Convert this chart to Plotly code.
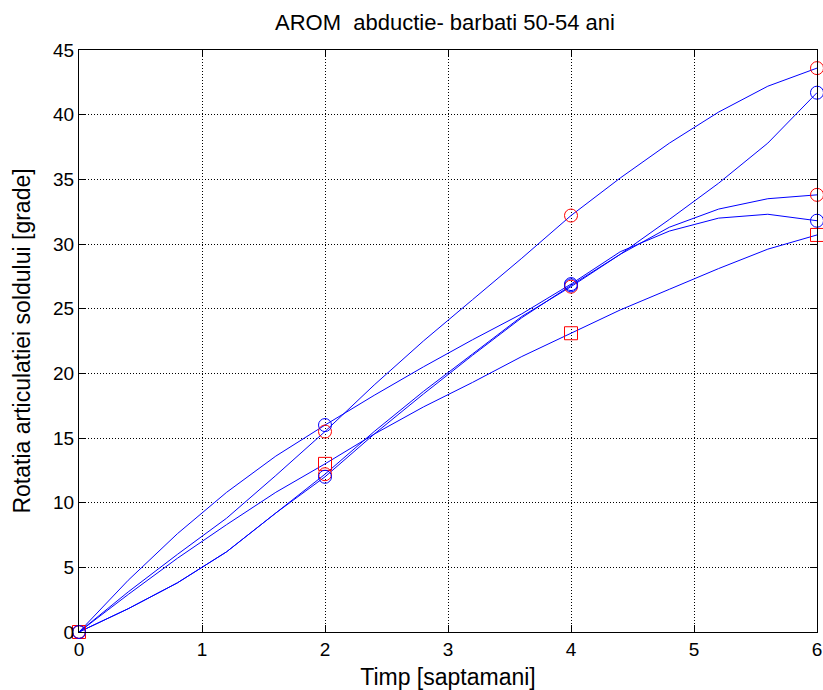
import plotly.graph_objects as go

# ---- data ----
weeks = [0, 2, 4, 6]
x_curve = [0, 0.4, 0.8, 1.2, 1.6, 2.0, 2.4, 2.8, 3.2, 3.6, 4.0, 4.4, 4.8, 5.2, 5.6, 6.0]

# curve A (red circles)
curve_a = [0, 3.1, 6.0, 8.8, 12.1, 15.5, 19.1, 22.5, 25.7, 28.9, 32.2, 35.1, 37.8, 40.2, 42.2, 43.6]
pts_a = [0, 15.5, 32.2, 43.6]
# curve B (blue circles)
curve_b = [0, 1.8, 3.8, 6.2, 9.2, 12.0, 15.3, 18.4, 21.4, 24.3, 26.8, 29.2, 31.9, 34.7, 37.8, 41.7]
pts_b = [0, 12.0, 26.8, 41.7]
# curve C (red circles)
curve_c = [0, 1.8, 3.8, 6.2, 9.2, 12.2, 15.5, 18.6, 21.5, 24.4, 26.7, 29.2, 31.3, 32.7, 33.5, 33.8]
pts_c = [0, 12.2, 26.7, 33.8]
# curve D (blue circles)
curve_d = [0, 4.0, 7.6, 10.8, 13.6, 16.0, 18.3, 20.5, 22.6, 24.6, 26.9, 29.4, 31.0, 32.0, 32.3, 31.8]
pts_d = [0, 16.0, 26.9, 31.8]
# curve E (red squares)
curve_e = [0, 2.9, 5.7, 8.3, 10.8, 13.0, 15.3, 17.4, 19.3, 21.3, 23.1, 24.9, 26.5, 28.1, 29.6, 30.7]
pts_e = [0, 13.0, 23.1, 30.7]

x_ticks = [0, 1, 2, 3, 4, 5, 6]
y_ticks = [0, 5, 10, 15, 20, 25, 30, 35, 40, 45]

title_text = "AROM\u00a0 abductie- barbati 50-54 ani"
x_title = "Timp [saptamani]"
y_title = "Rotatia articulatiei soldului [grade]"

BLUE = "rgb(0,0,255)"
RED = "rgb(255,0,0)"

fig = go.Figure()
for cy in [curve_a, curve_b, curve_c, curve_d, curve_e]:
    fig.add_trace(go.Scatter(x=x_curve, y=cy, mode="lines",
                             line=dict(color=BLUE, width=1), cliponaxis=False,
                             hoverinfo="skip"))

marker_sets = [
    (pts_a, "circle-open", RED),
    (pts_d, "circle-open", BLUE),
    (pts_e, "square-open", RED),
    (pts_c, "circle-open", RED),
    (pts_b, "circle-open", BLUE),
]
for ys, sym, col in marker_sets:
    fig.add_trace(go.Scatter(x=weeks, y=ys, mode="markers", cliponaxis=False,
                             marker=dict(symbol=sym, size=13, color=col,
                                         line=dict(color=col, width=1))))

axis_common = dict(showgrid=True, gridcolor="black", griddash="1px,2px", gridwidth=1,
                   showline=True, linecolor="black", linewidth=1, mirror="allticks",
                   ticks="inside", ticklen=7, tickcolor="black", tickwidth=1,
                   zeroline=False, automargin=False,
                   tickfont=dict(size=19, color="black"))

fig.update_layout(
    width=823, height=690,
    margin=dict(l=79, r=6, t=50, b=58, autoexpand=False),
    paper_bgcolor="white", plot_bgcolor="white",
    showlegend=False,
    font=dict(family="Liberation Sans, Arial, sans-serif", size=19, color="black"),
    title=dict(text=title_text, x=445 / 823, xanchor="center", xref="container",
               y=1 - 22 / 690, yanchor="middle", yref="container",
               font=dict(size=22)),
    xaxis=dict(range=[0, 6], tickvals=x_ticks, title=dict(text=x_title, standoff=10),
               **axis_common),
    yaxis=dict(range=[0, 45], tickvals=y_ticks, title=dict(text=y_title, standoff=16),
               **axis_common),
)

fig.write_html("out.html", config={"displayModeBar": False},
               post_script="document.body.style.margin='0';document.body.style.overflow='hidden';")
